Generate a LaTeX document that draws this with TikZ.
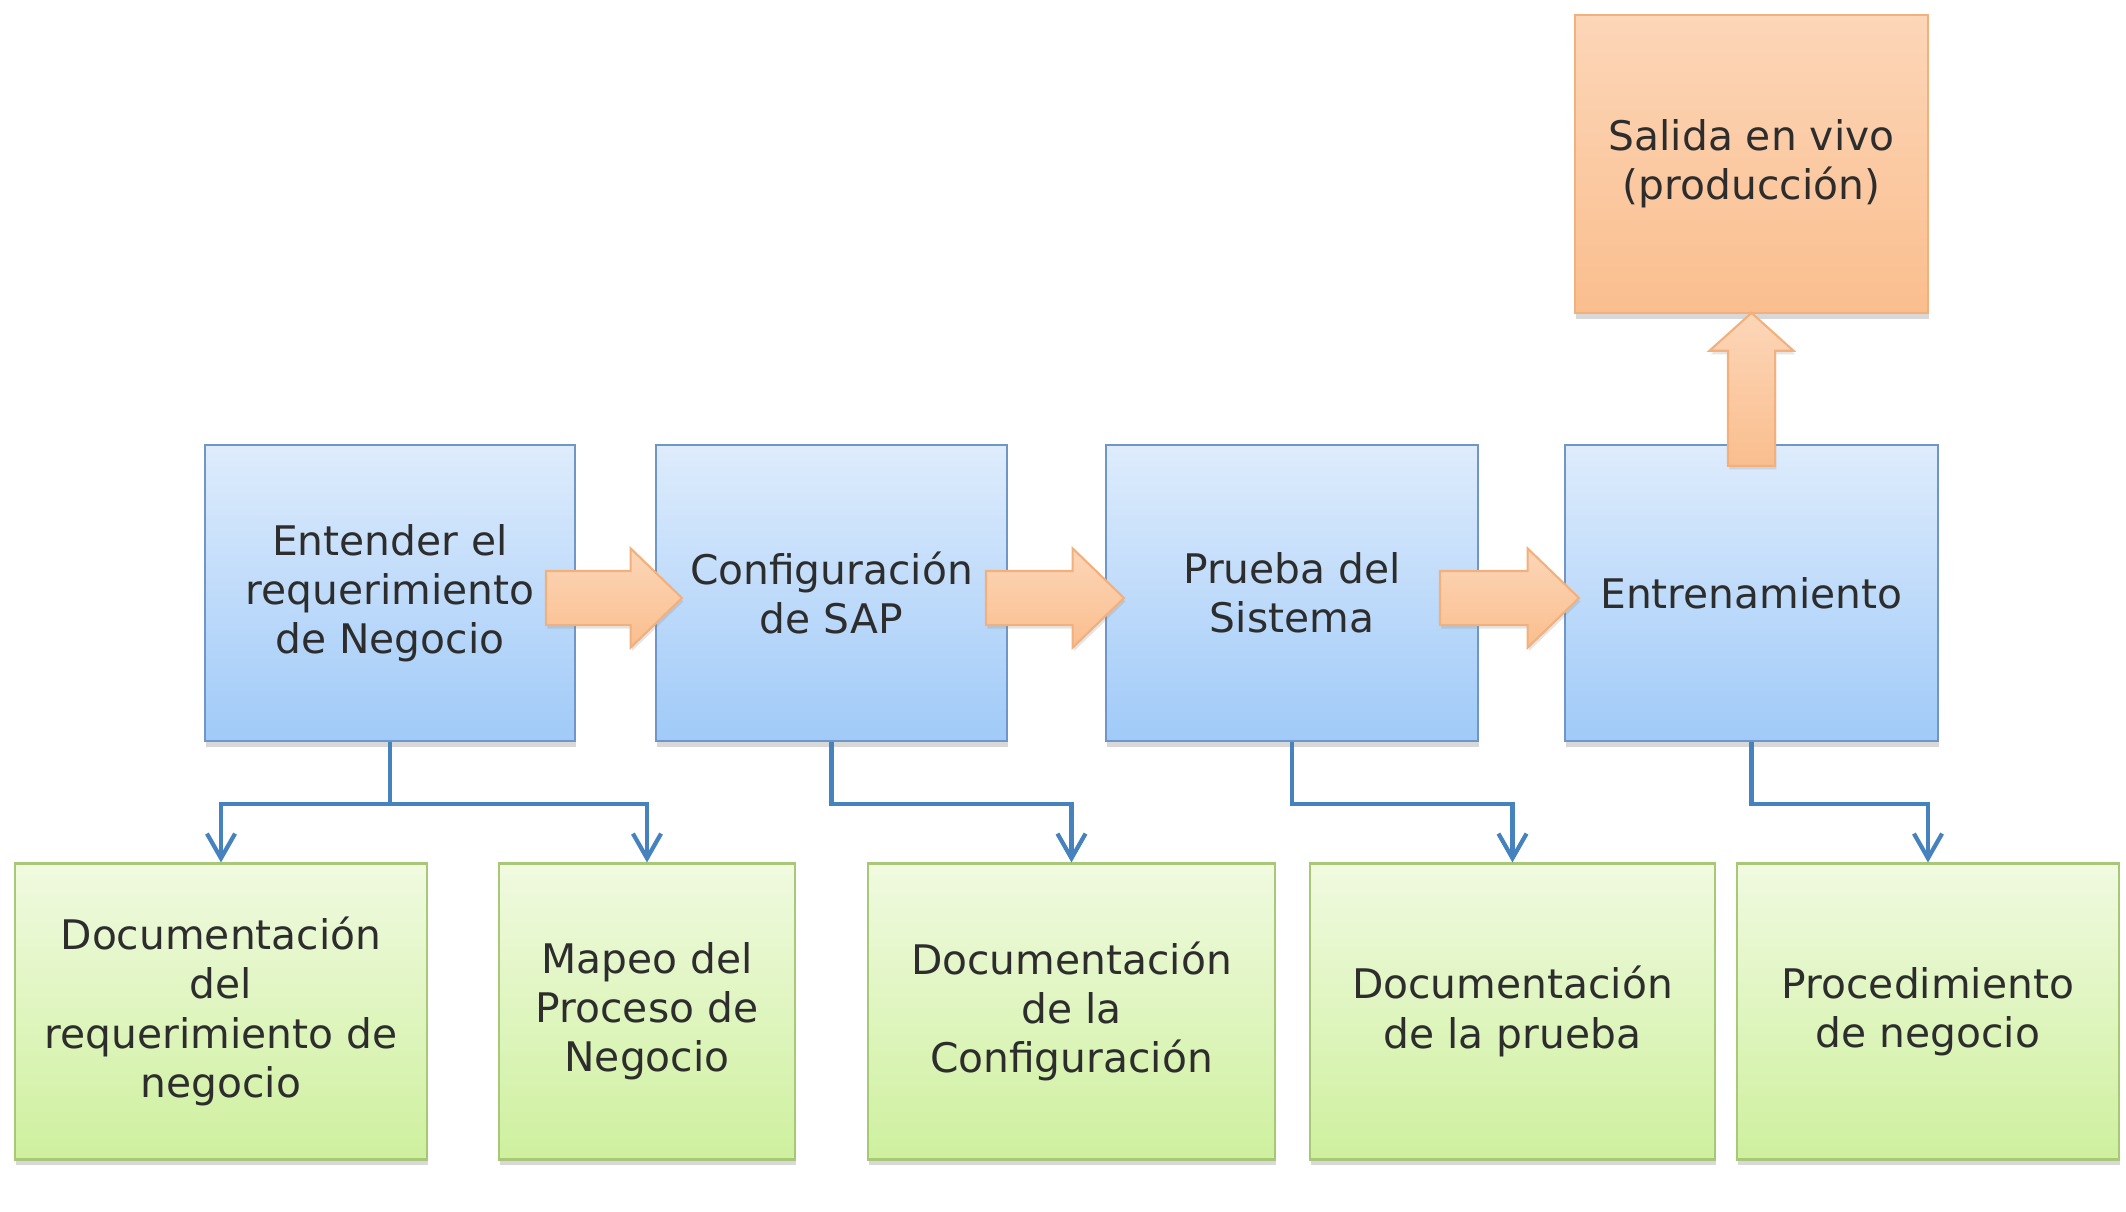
\documentclass[tikz,border=0pt]{standalone}
\usepackage{fontspec}
\setmainfont{DejaVu Sans}
\usepackage{xcolor}
\usepackage{tikz}
\usetikzlibrary{calc, shapes, shapes.arrows, shadows, arrows.meta, positioning}
\definecolor{blueline}{RGB}{112,150,200}
\definecolor{bluetop}{RGB}{222,236,252}
\definecolor{bluebot}{RGB}{160,202,248}
\definecolor{greenline}{RGB}{168,200,120}
\definecolor{greentop}{RGB}{240,250,224}
\definecolor{greenbot}{RGB}{206,240,158}
\definecolor{orangeline}{RGB}{242,176,124}
\definecolor{orangetop}{RGB}{252,214,184}
\definecolor{orangebot}{RGB}{250,190,142}
\definecolor{linkblue}{RGB}{70,130,190}
\definecolor{textgray}{RGB}{45,45,45}
\newcommand{\boxfont}{\fontsize{11.6pt}{14pt}\selectfont}
\tikzset{
    boxnode/.style = {rectangle, inner sep=0em, node distance=0em, minimum height=2.96cm,
      font=\boxfont, text=textgray, line width=0.6pt,
      drop shadow={opacity=0.3, shadow xshift=0.4pt, shadow yshift=-1.6pt}},
    bluenode/.style = {boxnode, draw=blueline, top color=bluetop, bottom color=bluebot},
    greennode/.style = {boxnode, draw=greenline, top color=greentop, bottom color=greenbot},
    orangenode/.style = {boxnode, draw=orangeline, top color=orangetop, bottom color=orangebot},
    fatarrow/.style = {single arrow, draw=orangeline, line width=0.6pt, inner xsep=0em,
      node distance=0em, top color=orangetop, bottom color=orangebot,
      drop shadow={opacity=0.2, shadow xshift=0.4pt, shadow yshift=-1pt}},
    connect/.style = {linkblue, line width=1.2pt, -{Straight Barb[length=7pt, width=8pt, line width=1.2pt]}},
    every text node part/.style={align=center}
}

\begin{document}
\begin{tikzpicture}
\useasboundingbox[fill=white] (-3.90,-6.18) rectangle (17.36,5.93);

% fila de etapas
\node [bluenode, name=Entender, minimum width=3.7cm] at (0,0) {Entender el\\requerimiento\\de Negocio};
\node [bluenode, name=ConfigSAP, right of=Entender, xshift=4.415cm, minimum width=3.51cm] {Configuración\\de SAP};
\node [bluenode, name=Prueba, right of=Entender, xshift=9.02cm, minimum width=3.72cm] {Prueba del\\Sistema};
\node [bluenode, name=Entrenamiento, right of=Entender, xshift=13.615cm, minimum width=3.73cm] {Entrenamiento};
\node [orangenode, name=Salida, above of=Entrenamiento, yshift=4.29cm, minimum width=3.53cm, minimum height=2.98cm] 
{Salida en vivo\\(producción)};

% documentos
\node [greennode, name=DocReq, below of=Entender, xshift=-1.69cm, yshift=-4.185cm, minimum width=4.12cm] 
{Documentación\\del\\requerimiento de\\negocio};
\node [greennode, name=Mapeo, below of=Entender, xshift=2.57cm, yshift=-4.185cm, minimum width=2.96cm] 
{Mapeo del\\Proceso de\\Negocio};
\node [greennode, name=DocConf, below of=ConfigSAP, xshift=2.40cm, yshift=-4.185cm, minimum width=4.07cm] 
{Documentación\\de la\\Configuración};
\node [greennode, name=DocPrueba, below of=Prueba, xshift=2.205cm, yshift=-4.185cm, minimum width=4.05cm] 
{Documentación\\de la prueba};
\node [greennode, name=Procedimiento, below of=Entrenamiento, xshift=1.765cm, yshift=-4.185cm, minimum width=3.82cm] 
{Procedimiento\\de negocio};

% flechas gruesas
\node [fatarrow, name=Flecha1, right of=Entender, xshift=2.10cm, yshift=-0.05cm, minimum height=1.36cm, inner ysep=0.26cm,
  minimum width=0.97cm, single arrow head extend=0.225cm, single arrow tip angle=88] {};
\node [fatarrow, name=Flecha2, right of=ConfigSAP, xshift=2.095cm, yshift=-0.05cm, minimum height=1.38cm, inner ysep=0.26cm,
  minimum width=0.97cm, single arrow head extend=0.225cm, single arrow tip angle=88] {};
\node [fatarrow, name=Flecha3, right of=Prueba, xshift=2.035cm, yshift=-0.05cm, minimum height=1.39cm, inner ysep=0.26cm,
  minimum width=0.97cm, single arrow head extend=0.225cm, single arrow tip angle=88] {};
\node [fatarrow, name=Flecha4, above of=Entrenamiento, yshift=1.93cm, rotate=90, minimum height=1.53cm, inner ysep=0.225cm,
  minimum width=0.82cm, single arrow head extend=0.185cm, single arrow tip angle=96] {};

% conectores
\draw [connect] (Entender.south) -- ++(0,-0.62) -| (DocReq.north);
\draw [connect] (Entender.south) -- ++(0,-0.62) -| (Mapeo.north);
\draw [connect] (ConfigSAP.south) -- ++(0,-0.62) -| (DocConf.north);
\draw [connect] (Prueba.south) -- ++(0,-0.62) -| (DocPrueba.north);
\draw [connect] (Entrenamiento.south) -- ++(0,-0.62) -| (Procedimiento.north);
\end{tikzpicture}
\end{document}
